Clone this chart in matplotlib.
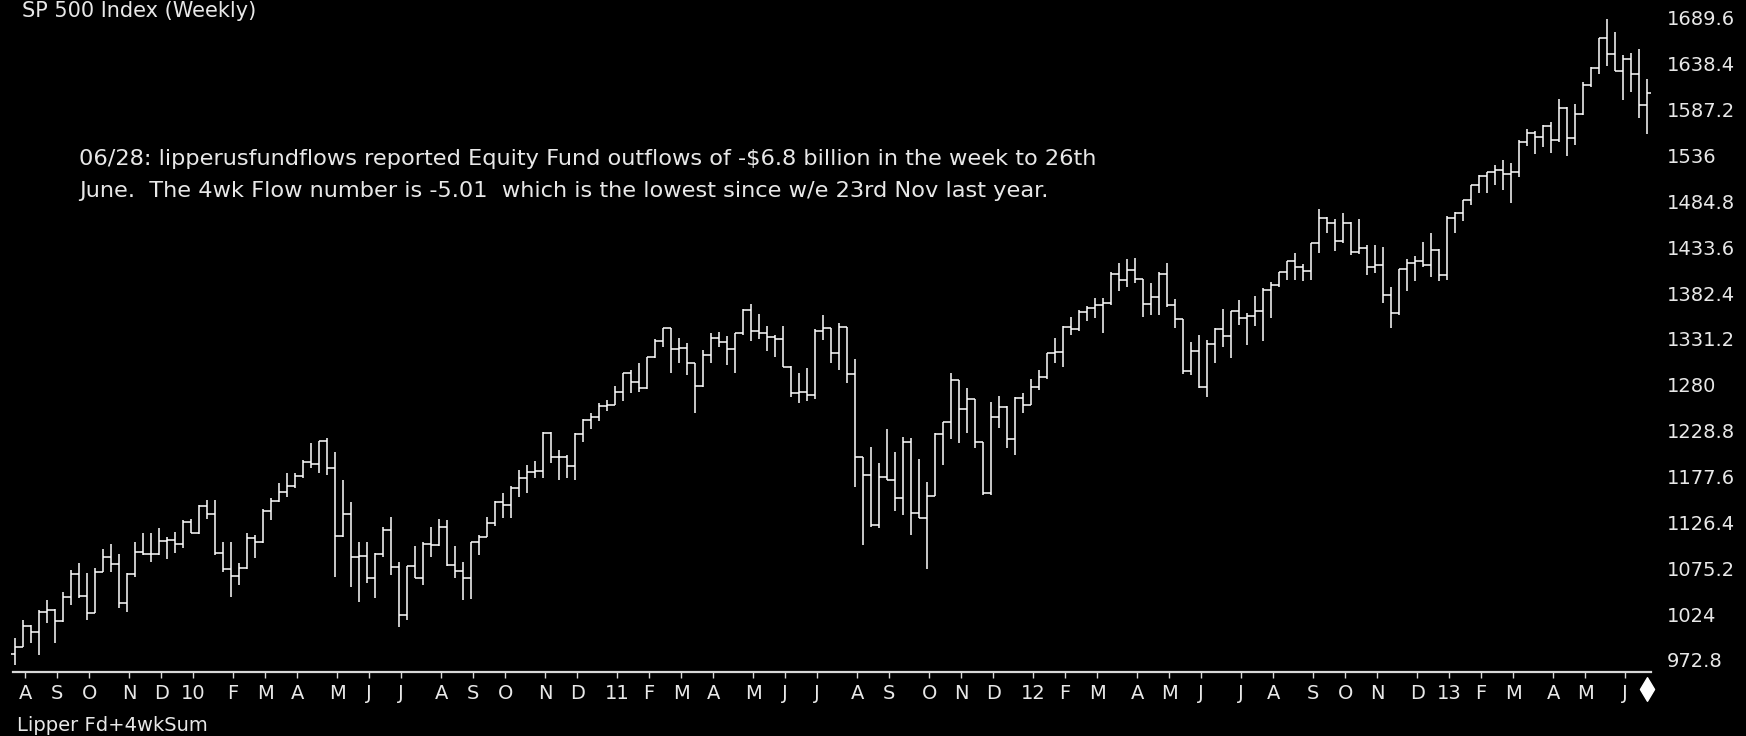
import matplotlib
matplotlib.use('Agg')
import matplotlib.pyplot as plt
import matplotlib.transforms as mtransforms
from matplotlib.path import Path
import numpy as np
import pandas as pd

# ---------------- data ----------------
start_date = '2009-07-31'
n_weeks = 205

opens = [979.0, 987.5, 1010.5, 1004.1, 1026.1, 1028.9, 1016.4, 1042.7, 1068.3, 1044.4,
         1025.2, 1071.5, 1087.7, 1079.6, 1036.2, 1069.3, 1093.5, 1091.4, 1091.5, 1106.0,
         1106.4, 1102.5, 1126.5, 1115.1, 1145.0, 1136.0, 1091.8, 1073.9, 1066.2, 1075.5,
         1109.2, 1104.5, 1138.7, 1150.0, 1159.9, 1166.6, 1178.1, 1194.4, 1192.1, 1217.3,
         1186.7, 1110.9, 1135.7, 1087.7, 1089.4, 1064.9, 1091.6, 1117.5, 1076.8, 1022.6,
         1078.0, 1064.9, 1102.7, 1101.6, 1121.6, 1079.3, 1071.7, 1064.6, 1104.5, 1109.6,
         1125.6, 1148.7, 1146.2, 1165.2, 1176.2, 1183.1, 1183.3, 1225.9, 1199.2, 1199.7,
         1189.4, 1224.7, 1240.4, 1243.9, 1256.8, 1257.6, 1271.5, 1293.2, 1283.4, 1276.3,
         1310.9, 1329.2, 1343.0, 1319.9, 1321.2, 1304.3, 1279.2, 1313.8, 1332.4, 1328.2,
         1319.7, 1337.4, 1363.6, 1340.2, 1337.8, 1333.3, 1331.1, 1300.2, 1271.0, 1271.5,
         1268.5, 1339.7, 1343.8, 1316.1, 1345.0, 1292.3, 1199.4, 1178.8, 1123.5, 1176.8,
         1174.0, 1154.2, 1216.0, 1136.4, 1131.4, 1155.5, 1224.6, 1238.3, 1285.1, 1253.2,
         1263.9, 1215.7, 1158.7, 1244.3, 1255.2, 1219.7, 1265.3, 1257.6, 1277.8, 1289.1,
         1315.4, 1316.3, 1344.9, 1342.6, 1361.2, 1365.7, 1369.6, 1370.9, 1404.2, 1397.1,
         1408.5, 1398.1, 1370.3, 1378.5, 1403.4, 1369.1, 1353.4, 1295.2, 1317.8, 1278.0,
         1325.7, 1342.8, 1335.0, 1362.2, 1354.7, 1356.8, 1362.7, 1386.0, 1391.0, 1405.9,
         1418.2, 1411.1, 1406.6, 1437.9, 1465.8, 1460.2, 1440.7, 1460.9, 1428.6, 1433.2,
         1411.9, 1414.2, 1379.9, 1359.9, 1409.2, 1416.2, 1418.1, 1413.6, 1430.2, 1402.4,
         1466.5, 1472.1, 1486.0, 1503.0, 1513.2, 1517.9, 1519.8, 1515.6, 1518.2, 1551.2,
         1560.7, 1556.9, 1569.2, 1553.3, 1588.9, 1555.3, 1582.2, 1614.4, 1633.7, 1667.5,
         1649.6, 1630.7, 1643.4, 1626.7, 1592.4]

highs = [997.0, 1017.5, 1012.0, 1028.6, 1039.8, 1030.0, 1049.0, 1073.3, 1080.8, 1069.6,
         1076.0, 1096.4, 1102.4, 1091.2, 1069.6, 1105.0, 1114.3, 1114.3, 1120.6, 1110.5,
         1116.1, 1129.1, 1130.3, 1145.9, 1151.5, 1151.5, 1105.0, 1105.0, 1080.8, 1114.3,
         1112.4, 1141.0, 1153.3, 1170.0, 1181.2, 1181.2, 1196.0, 1214.7, 1217.6, 1221.0,
         1205.4, 1173.8, 1149.6, 1104.9, 1104.9, 1091.9, 1120.9, 1132.1, 1082.6, 1078.1,
         1100.4, 1104.9, 1121.7, 1129.9, 1129.1, 1100.4, 1082.6, 1104.9, 1112.3, 1132.1,
         1150.7, 1158.9, 1167.1, 1184.9, 1190.5, 1195.0, 1227.7, 1227.0, 1207.2, 1201.7,
         1225.9, 1241.5, 1248.2, 1259.4, 1263.1, 1279.1, 1293.5, 1296.6, 1304.0, 1311.5,
         1330.8, 1343.8, 1344.0, 1331.9, 1327.1, 1304.3, 1318.9, 1337.5, 1339.4, 1334.5,
         1337.5, 1364.3, 1370.6, 1359.1, 1345.7, 1335.6, 1345.7, 1301.0, 1292.9, 1299.2,
         1342.0, 1358.0, 1343.1, 1348.7, 1345.0, 1308.5, 1199.5, 1210.2, 1192.3, 1230.3,
         1205.4, 1221.4, 1221.0, 1196.8, 1171.9, 1225.9, 1238.9, 1292.9, 1285.4, 1276.8,
         1264.5, 1216.5, 1261.2, 1267.5, 1256.0, 1266.8, 1270.5, 1286.2, 1296.6, 1315.9,
         1332.7, 1345.7, 1355.4, 1363.6, 1368.4, 1376.6, 1376.6, 1406.4, 1415.7, 1420.1,
         1422.0, 1397.8, 1393.3, 1406.4, 1415.7, 1375.5, 1353.2, 1328.2, 1335.6, 1330.1,
         1343.8, 1364.3, 1362.2, 1374.7, 1359.9, 1379.2, 1387.8, 1395.2, 1406.4, 1418.3,
         1426.8, 1414.9, 1438.0, 1476.0, 1467.8, 1464.8, 1471.5, 1462.2, 1464.8, 1436.2,
         1436.2, 1433.6, 1388.9, 1409.2, 1420.1, 1423.9, 1439.9, 1449.2, 1431.4, 1468.6,
         1473.4, 1486.4, 1503.2, 1514.4, 1518.1, 1525.5, 1531.1, 1527.4, 1553.4, 1565.4,
         1563.9, 1570.2, 1573.9, 1598.9, 1589.9, 1593.3, 1618.6, 1634.6, 1667.5, 1688.2,
         1674.4, 1648.4, 1650.2, 1654.7, 1621.2]

lows = [967.0, 987.0, 992.0, 978.4, 1013.8, 991.4, 1015.0, 1034.0, 1041.7, 1018.0,
        1024.9, 1071.0, 1071.5, 1030.5, 1026.8, 1066.0, 1090.0, 1082.6, 1090.0, 1085.2,
        1091.9, 1098.0, 1114.3, 1114.0, 1129.9, 1090.0, 1071.5, 1043.5, 1056.6, 1074.0,
        1086.4, 1103.0, 1129.1, 1149.6, 1155.2, 1164.5, 1175.6, 1186.8, 1182.0, 1179.3,
        1065.8, 1110.0, 1054.7, 1037.9, 1058.4, 1041.6, 1088.2, 1067.7, 1010.0, 1017.5,
        1064.0, 1056.5, 1088.2, 1100.0, 1078.1, 1064.0, 1039.8, 1040.9, 1090.0, 1109.6,
        1122.0, 1131.0, 1131.0, 1155.2, 1158.9, 1175.6, 1175.6, 1192.4, 1173.7, 1176.0,
        1173.7, 1216.6, 1230.3, 1240.0, 1251.2, 1257.6, 1262.3, 1270.5, 1272.4, 1275.4,
        1310.0, 1322.6, 1293.6, 1304.0, 1291.0, 1248.2, 1278.0, 1304.8, 1322.6, 1302.2,
        1293.6, 1335.6, 1329.3, 1330.8, 1318.2, 1311.5, 1300.2, 1266.0, 1259.4, 1262.3,
        1264.0, 1330.1, 1304.8, 1296.6, 1282.4, 1166.3, 1101.2, 1121.6, 1119.8, 1174.0,
        1139.5, 1134.7, 1112.3, 1131.0, 1074.0, 1155.5, 1190.5, 1219.1, 1215.4, 1226.6,
        1209.1, 1157.0, 1157.0, 1231.4, 1209.1, 1201.7, 1249.0, 1257.5, 1274.2, 1287.0,
        1304.0, 1300.3, 1335.6, 1340.0, 1351.7, 1354.3, 1338.3, 1369.2, 1385.2, 1388.9,
        1394.1, 1356.1, 1358.0, 1358.0, 1367.3, 1343.1, 1292.1, 1291.0, 1276.1, 1266.8,
        1304.8, 1322.6, 1309.6, 1346.8, 1324.5, 1345.7, 1329.3, 1354.3, 1389.6, 1397.1,
        1397.1, 1395.9, 1397.1, 1427.6, 1449.9, 1429.8, 1438.8, 1425.0, 1426.1, 1402.7,
        1404.6, 1371.8, 1343.1, 1358.0, 1385.2, 1396.4, 1411.3, 1400.8, 1396.4, 1397.1,
        1450.0, 1463.4, 1480.9, 1494.6, 1493.9, 1503.2, 1497.6, 1483.5, 1512.5, 1546.7,
        1537.8, 1546.0, 1539.3, 1551.6, 1535.6, 1547.9, 1581.4, 1613.0, 1627.1, 1636.0,
        1630.7, 1598.1, 1607.4, 1577.6, 1560.1]

closes = [987.5, 1010.5, 1004.1, 1026.1, 1028.9, 1016.4, 1042.7, 1068.3, 1044.4, 1025.2,
          1071.5, 1087.7, 1079.6, 1036.2, 1069.3, 1093.5, 1091.4, 1091.5, 1106.0, 1106.4,
          1102.5, 1126.5, 1115.1, 1145.0, 1136.0, 1091.8, 1073.9, 1066.2, 1075.5, 1109.2,
          1104.5, 1138.7, 1150.0, 1159.9, 1166.6, 1178.1, 1194.4, 1192.1, 1217.3, 1186.7,
          1110.9, 1135.7, 1087.7, 1089.4, 1064.9, 1091.6, 1117.5, 1076.8, 1022.6, 1078.0,
          1064.9, 1102.7, 1101.6, 1121.6, 1079.3, 1071.7, 1064.6, 1104.5, 1109.6, 1125.6,
          1148.7, 1146.2, 1165.2, 1176.2, 1183.1, 1183.3, 1225.9, 1199.2, 1199.7, 1189.4,
          1224.7, 1240.4, 1243.9, 1256.8, 1257.6, 1271.5, 1293.2, 1283.4, 1276.3, 1310.9,
          1329.2, 1343.0, 1319.9, 1321.2, 1304.3, 1279.2, 1313.8, 1332.4, 1328.2, 1319.7,
          1337.4, 1363.6, 1340.2, 1337.8, 1333.3, 1331.1, 1300.2, 1271.0, 1271.5, 1268.5,
          1339.7, 1343.8, 1316.1, 1345.0, 1292.3, 1199.4, 1178.8, 1123.5, 1176.8, 1174.0,
          1154.2, 1216.0, 1136.4, 1131.4, 1155.5, 1224.6, 1238.3, 1285.1, 1253.2, 1263.9,
          1215.7, 1158.7, 1244.3, 1255.2, 1219.7, 1265.3, 1257.6, 1277.8, 1289.1, 1315.4,
          1316.3, 1344.9, 1342.6, 1361.2, 1365.7, 1369.6, 1370.9, 1404.2, 1397.1, 1408.5,
          1398.1, 1370.3, 1378.5, 1403.4, 1369.1, 1353.4, 1295.2, 1317.8, 1278.0, 1325.7,
          1342.8, 1335.0, 1362.2, 1354.7, 1356.8, 1362.7, 1386.0, 1391.0, 1405.9, 1418.2,
          1411.1, 1406.6, 1437.9, 1465.8, 1460.2, 1440.7, 1460.9, 1428.6, 1433.2, 1411.9,
          1414.2, 1379.9, 1359.9, 1409.2, 1416.2, 1418.1, 1413.6, 1430.2, 1402.4, 1466.5,
          1472.1, 1486.0, 1503.0, 1513.2, 1517.9, 1519.8, 1515.6, 1518.2, 1551.2, 1560.7,
          1556.9, 1569.2, 1553.3, 1588.9, 1555.3, 1582.2, 1614.4, 1633.7, 1667.5, 1649.6,
          1630.7, 1643.4, 1626.7, 1592.4, 1606.3]

month_labels = ['A', 'S', 'O', 'N', 'D',
                '10', 'F', 'M', 'A', 'M', 'J', 'J', 'A', 'S', 'O', 'N', 'D',
                '11', 'F', 'M', 'A', 'M', 'J', 'J', 'A', 'S', 'O', 'N', 'D',
                '12', 'F', 'M', 'A', 'M', 'J', 'J', 'A', 'S', 'O', 'N', 'D',
                '13', 'F', 'M', 'A', 'M', 'J']

price_ticks = [972.8, 1024.0, 1075.2, 1126.4, 1177.6, 1228.8, 1280.0, 1331.2,
               1382.4, 1433.6, 1484.8, 1536.0, 1587.2, 1638.4, 1689.6]
price_labels = ['972.8', '1024', '1075.2', '1126.4', '1177.6', '1228.8', '1280', '1331.2',
                '1382.4', '1433.6', '1484.8', '1536', '1587.2', '1638.4', '1689.6']

title_text = 'SP 500 Index (Weekly)'
note_lines = ['06/28: lipperusfundflows reported Equity Fund outflows of -\\$6.8 billion in the week to 26th',
              'June.  The 4wk Flow number is -5.01  which is the lowest since w/e 23rd Nov last year.']
footer_text = 'Lipper Fd+4wkSum'

# ---------------- layout ----------------
W, H, DPI = 1746, 736, 100
FG = '#e8e8e8'
FONT = ['DejaVu Sans']

dates = pd.date_range(start_date, periods=n_weeks, freq='W-FRI')
xs = np.arange(n_weeks)

fig = plt.figure(figsize=(W / DPI, H / DPI), dpi=DPI, facecolor='black')

px_per_bar = 8.0
x0_px = 14.7
ax_right_px = 1655
ax_bottom_px = 672
ax = fig.add_axes([0, (H - ax_bottom_px) / H, ax_right_px / W, ax_bottom_px / H])
ax.set_facecolor('black')
ax.set_xlim(-x0_px / px_per_bar, (ax_right_px - x0_px) / px_per_bar)
ppu = (660 - 18) / (1689.6 - 972.8)
ax.set_ylim(972.8 - (ax_bottom_px - 660) / ppu, 972.8 + 660 / ppu)

lw = 1.1
ax.vlines(xs, lows, highs, color='white', lw=lw)
ax.hlines(opens, xs - 0.5, xs, color='white', lw=lw)
ax.hlines(closes, xs, xs + 0.5, color='white', lw=lw)

for s in ['top', 'left', 'right']:
    ax.spines[s].set_visible(False)
ax.spines['bottom'].set_color('#d8d8d8')
ax.spines['bottom'].set_linewidth(1.6)
ax.spines['bottom'].set_bounds(-0.25, n_weeks - 0.5)

month_pos = [xs[k] + 0.3 for k in range(1, n_weeks) if dates[k].month != dates[k - 1].month]
ax.set_xticks(month_pos)
ax.set_xticklabels(month_labels, fontsize=14, color=FG, family=FONT)
ax.tick_params(axis='x', direction='out', length=4, width=1.0, color='#d8d8d8', pad=4.5)

ax.yaxis.tick_right()
ax.set_yticks(price_ticks)
ax.set_yticklabels(price_labels, fontsize=14, color=FG, family=FONT)
ax.tick_params(axis='y', length=0, pad=8.5)

# end-of-data diamond marker
diamond = Path([(0, 1), (0.6, 0), (0, -1), (-0.6, 0), (0, 1)],
               [Path.MOVETO, Path.LINETO, Path.LINETO, Path.LINETO, Path.CLOSEPOLY])
trans = mtransforms.blended_transform_factory(ax.transData, ax.transAxes)
ax.plot([xs[-1]], [(ax_bottom_px - 689) / ax_bottom_px], marker=diamond, markersize=17,
        color='white', transform=trans, clip_on=False, linestyle='none')

# texts
fig.text(22 / W, 1 - 1 / H, title_text, color=FG, fontsize=15, family=FONT,
         ha='left', va='top')
fig.text(79 / W, 1 - 165 / H, note_lines[0], color=FG, fontsize=16.2, family=FONT,
         ha='left', va='baseline')
fig.text(79 / W, 1 - 197 / H, note_lines[1], color=FG, fontsize=16.2, family=FONT,
         ha='left', va='baseline')
fig.text(17 / W, 1 - 731 / H, footer_text, color=FG, fontsize=14, family=FONT,
         ha='left', va='baseline')

fig.savefig('out.png', dpi=DPI, facecolor='black')
